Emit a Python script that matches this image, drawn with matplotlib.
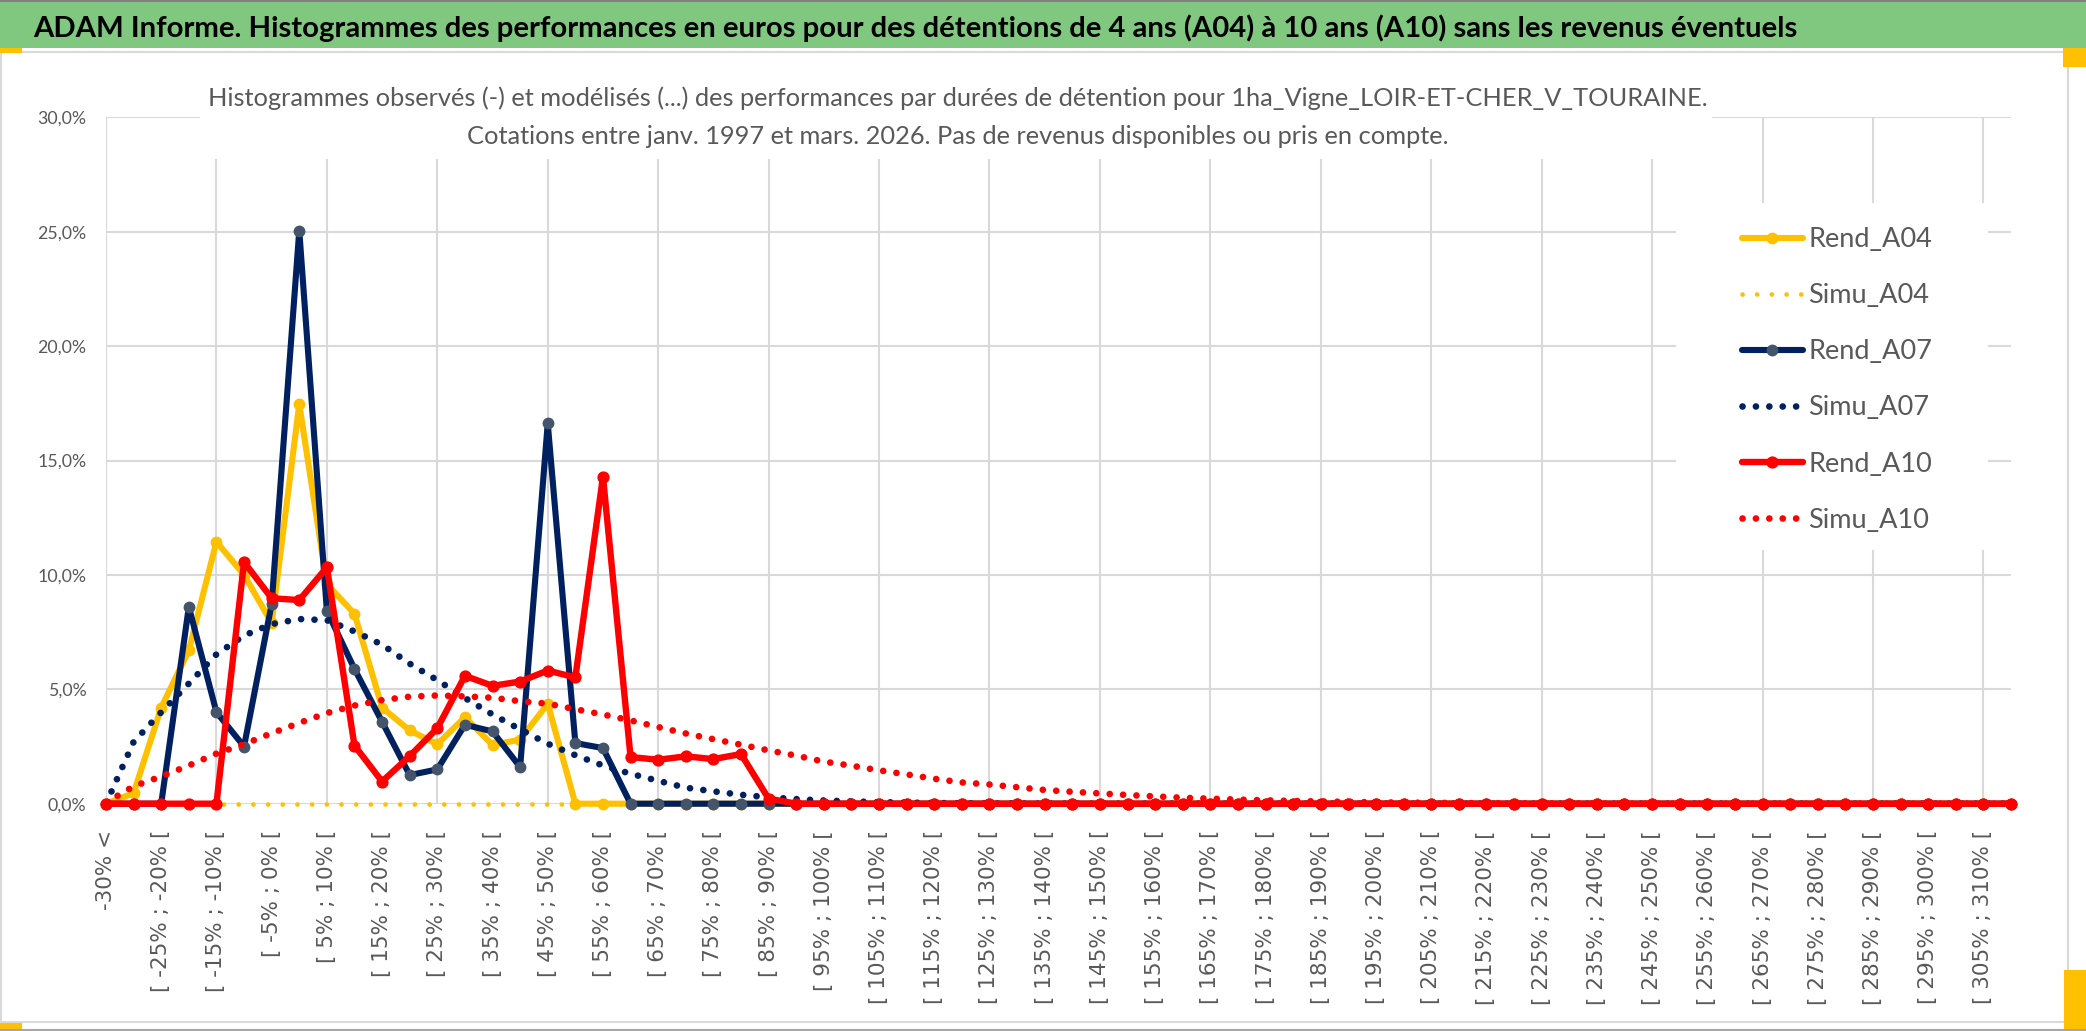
import matplotlib
matplotlib.use("Agg")
import matplotlib.pyplot as plt
import matplotlib.patches as patches
from matplotlib.lines import Line2D

# categories : classes de performance (pas de 5 %)
categories = ['-30% <'] + ['[ %d%% ; %d%% [' % (lo, lo + 5) for lo in range(-30, 315, 5)]

# valeurs en %
rend_a04 = [0.0, 0.46, 4.2, 6.7, 11.45, 10.0, 7.9, 17.46, 9.6, 8.3,
            4.2, 3.2, 2.6, 3.78, 2.57, 2.8, 4.37, 0.0, 0.0, 0.0,
            0.0, 0.0, 0.0, 0.0, 0.0, 0.0, 0.0, 0.0, 0.0, 0.0,
            0.0, 0.0, 0.0, 0.0, 0.0, 0.0, 0.0, 0.0, 0.0, 0.0,
            0.0, 0.0, 0.0, 0.0, 0.0, 0.0, 0.0, 0.0, 0.0, 0.0,
            0.0, 0.0, 0.0, 0.0, 0.0, 0.0, 0.0, 0.0, 0.0, 0.0,
            0.0, 0.0, 0.0, 0.0, 0.0, 0.0, 0.0, 0.0, 0.0, 0.0]
simu_a04 = [0.0, 0.0, 0.0, 0.0, 0.0, 0.0, 0.0, 0.0, 0.0, 0.0,
            0.0, 0.0, 0.0, 0.0, 0.0, 0.0, 0.0, 0.0, 0.0, 0.0,
            0.0, 0.0, 0.0, 0.0, 0.0, 0.0, 0.0, 0.0, 0.0, 0.0,
            0.0, 0.0, 0.0, 0.0, 0.0, 0.0, 0.0, 0.0, 0.0, 0.0,
            0.0, 0.0, 0.0, 0.0, 0.0, 0.0, 0.0, 0.0, 0.0, 0.0,
            0.0, 0.0, 0.0, 0.0, 0.0, 0.0, 0.0, 0.0, 0.0, 0.0,
            0.0, 0.0, 0.0, 0.0, 0.0, 0.0, 0.0, 0.0, 0.0, 0.0]
rend_a07 = [0.0, 0.0, 0.0, 8.6, 4.0, 2.5, 8.73, 25.05, 8.43, 5.89,
            3.58, 1.25, 1.5, 3.45, 3.16, 1.6, 16.62, 2.65, 2.43, 0.0,
            0.0, 0.0, 0.0, 0.0, 0.0, 0.0, 0.0, 0.0, 0.0, 0.0,
            0.0, 0.0, 0.0, 0.0, 0.0, 0.0, 0.0, 0.0, 0.0, 0.0,
            0.0, 0.0, 0.0, 0.0, 0.0, 0.0, 0.0, 0.0, 0.0, 0.0,
            0.0, 0.0, 0.0, 0.0, 0.0, 0.0, 0.0, 0.0, 0.0, 0.0,
            0.0, 0.0, 0.0, 0.0, 0.0, 0.0, 0.0, 0.0, 0.0, 0.0]
simu_a07 = [0.0, 2.7, 4.0, 5.25, 6.53, 7.35, 7.85, 8.07, 8.02, 7.53,
            6.95, 6.12, 5.4, 4.62, 3.9, 3.25, 2.62, 2.12, 1.67, 1.31,
            1.0, 0.7, 0.54, 0.39, 0.28, 0.2, 0.14, 0.1, 0.07, 0.05,
            0.03, 0.02, 0.01, 0.01, 0.0, 0.0, 0.0, 0.0, 0.0, 0.0,
            0.0, 0.0, 0.0, 0.0, 0.0, 0.0, 0.0, 0.0, 0.0, 0.0,
            0.0, 0.0, 0.0, 0.0, 0.0, 0.0, 0.0, 0.0, 0.0, 0.0,
            0.0, 0.0, 0.0, 0.0, 0.0, 0.0, 0.0, 0.0, 0.0, 0.0]
rend_a10 = [0.0, 0.0, 0.0, 0.0, 0.0, 10.56, 8.98, 8.9, 10.33, 2.54,
            0.97, 2.08, 3.3, 5.59, 5.15, 5.34, 5.82, 5.52, 14.29, 2.04,
            1.92, 2.07, 1.95, 2.17, 0.22, 0.0, 0.0, 0.0, 0.0, 0.0,
            0.0, 0.0, 0.0, 0.0, 0.0, 0.0, 0.0, 0.0, 0.0, 0.0,
            0.0, 0.0, 0.0, 0.0, 0.0, 0.0, 0.0, 0.0, 0.0, 0.0,
            0.0, 0.0, 0.0, 0.0, 0.0, 0.0, 0.0, 0.0, 0.0, 0.0,
            0.0, 0.0, 0.0, 0.0, 0.0, 0.0, 0.0, 0.0, 0.0, 0.0]
simu_a10 = [0.05, 0.76, 1.19, 1.67, 2.19, 2.6, 3.08, 3.53, 3.96, 4.29,
            4.53, 4.68, 4.73, 4.69, 4.63, 4.48, 4.37, 4.13, 3.9, 3.64,
            3.35, 3.07, 2.82, 2.58, 2.33, 2.1, 1.84, 1.66, 1.46, 1.28,
            1.09, 0.93, 0.84, 0.72, 0.6, 0.52, 0.45, 0.38, 0.32, 0.26,
            0.22, 0.18, 0.15, 0.12, 0.1, 0.08, 0.06, 0.05, 0.04, 0.03,
            0.02, 0.02, 0.01, 0.01, 0.01, 0.0, 0.0, 0.0, 0.0, 0.0,
            0.0, 0.0, 0.0, 0.0, 0.0, 0.0, 0.0, 0.0, 0.0, 0.0]

y_ticks = [0, 5, 10, 15, 20, 25, 30]

title = ("ADAM Informe. Histogrammes des performances en euros pour des d\u00e9tentions "
         "de 4 ans (A04) \u00e0 10 ans (A10) sans les revenus \u00e9ventuels")
subtitle1 = ("Histogrammes observ\u00e9s (-) et mod\u00e9lis\u00e9s (...) des performances par "
             "dur\u00e9es de d\u00e9tention pour 1ha_Vigne_LOIR-ET-CHER_V_TOURAINE.")
subtitle2 = "Cotations entre janv. 1997 et mars. 2026. Pas de revenus disponibles ou pris en compte."

W, H = 2086, 1031
GRAY = '#595959'
GRID = '#D9D9D9'
YELLOW = '#FFC000'
NAVY = '#002060'
SLATE = '#44546A'
RED = '#FF0000'
FONT = ['Lato', 'DejaVu Sans']


def fx(x):
    return x / W


def fy(y):
    return 1 - y / H


fig = plt.figure(figsize=(W / 100, H / 100), dpi=100)

# bandeau vert + cadre du graphique
fig.patches.append(patches.Rectangle((0, fy(48)), 1, fy(0) - fy(48), transform=fig.transFigure,
                                     facecolor='#80C880', edgecolor='none', zorder=0))
fig.lines.append(Line2D([0, 1], [fy(1), fy(1)], transform=fig.transFigure, color='#808080', lw=1.5))
fig.patches.append(patches.Rectangle((fx(1), fy(1022)), fx(2067), fy(52) - fy(1022),
                                     transform=fig.transFigure, facecolor='none',
                                     edgecolor=GRID, lw=1.5, zorder=0))
fig.lines.append(Line2D([0, 1], [fy(1030), fy(1030)], transform=fig.transFigure, color='#A6A6A6', lw=1.5))
for (x0, y0, x1, y1) in [(0, 48, 22, 53), (2063, 48, 2086, 67), (0, 1023, 22, 1030), (2064, 970, 2086, 1031)]:
    fig.patches.append(patches.Rectangle((fx(x0), fy(y1)), fx(x1) - fx(x0), fy(y0) - fy(y1),
                                         transform=fig.transFigure, facecolor=YELLOW,
                                         edgecolor='none', zorder=0))

fig.text(fx(33), fy(37), title, fontsize=21.1, fontweight='bold', color='black',
         family=FONT, ha='left', va='baseline')

ax = fig.add_axes([fx(106), fy(803.7), fx(2011) - fx(106), fy(117.3) - fy(803.7)])
ax.set_xlim(0, len(categories) - 1)
ax.set_ylim(0, 30)
for s in ax.spines.values():
    s.set_visible(False)

ax.set_yticks(y_ticks)
ax.set_yticklabels([('%.1f%%' % v).replace('.', ',') for v in y_ticks],
                   fontsize=12.8, color=GRAY, family=FONT)
ax.tick_params(axis='y', length=0, pad=14)
ax.yaxis.grid(True, color=GRID, lw=1.5)
ax.set_axisbelow(True)
for i in range(0, len(categories), 4):
    ax.axvline(i, color=GRID, lw=1.5, zorder=0.5)

ax.set_xticks(range(0, len(categories), 2))
ax.set_xticklabels(categories[::2], rotation=90, fontsize=15.5, color=GRAY, family='DejaVu Sans')
ax.tick_params(axis='x', length=0, pad=19)

x = list(range(len(categories)))
series = [
    ('Rend_A04', rend_a04, dict(color=YELLOW, lw=4.4, marker='o', ms=7.5, mfc=YELLOW, mec=YELLOW)),
    ('Simu_A04', simu_a04, dict(color=YELLOW, lw=3.4, ls=(0, (0.01, 3.1)), dash_capstyle='round')),
    ('Rend_A07', rend_a07, dict(color=NAVY, lw=4.4, marker='o', ms=7.5, mfc=SLATE, mec=SLATE)),
    ('Simu_A07', simu_a07, dict(color=NAVY, lw=4.8, ls=(0, (0.01, 2.0)), dash_capstyle='round')),
    ('Rend_A10', rend_a10, dict(color=RED, lw=4.6, marker='o', ms=7.8, mfc=RED, mec=RED)),
    ('Simu_A10', simu_a10, dict(color=RED, lw=4.8, ls=(0, (0.01, 2.0)), dash_capstyle='round')),
]
handles = []
for name, vals, style in series:
    ln, = ax.plot(x, vals, label=name, clip_on=False, solid_capstyle='round', **style)
    handles.append(ln)

# cadres blancs du sous-titre et de la legende
fig.patches.append(patches.Rectangle((fx(200), fy(159)), fx(1712) - fx(200), fy(70) - fy(159),
                                     transform=fig.transFigure, facecolor='white',
                                     edgecolor='none', zorder=1))
fig.patches.append(patches.Rectangle((fx(1676), fy(550)), fx(1988) - fx(1676), fy(203) - fy(550),
                                     transform=fig.transFigure, facecolor='white',
                                     edgecolor='none', zorder=1))

fig.text(fx(958), fy(106), subtitle1, fontsize=18.3, color=GRAY, family=FONT,
         ha='center', va='baseline', zorder=3)
fig.text(fx(958), fy(144), subtitle2, fontsize=18.3, color=GRAY, family=FONT,
         ha='center', va='baseline', zorder=3)

leg = fig.legend(handles=handles, loc='upper left', bbox_to_anchor=(fx(1742), fy(227)),
                 frameon=False, prop={'family': FONT, 'size': 19.5},
                 handlelength=2.25, handletextpad=0.2, labelspacing=1.15,
                 borderpad=0, borderaxespad=0, numpoints=1)
for t in leg.get_texts():
    t.set_color(GRAY)
leg.set_zorder(4)

fig.savefig('out.png', dpi=100)
